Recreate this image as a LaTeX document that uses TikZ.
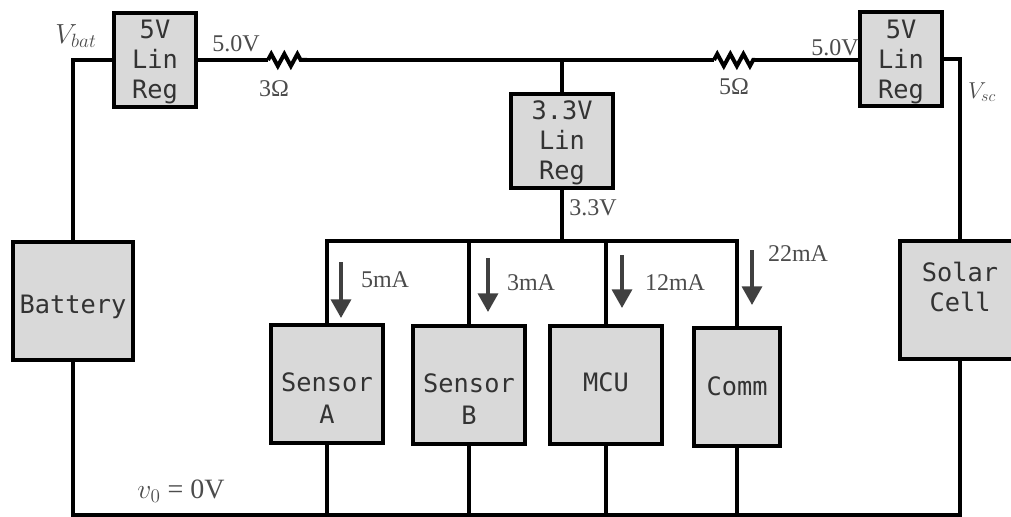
\documentclass[tikz,border=0pt]{standalone}
\usepackage{amsmath}
\usepackage{fontspec}
\usepackage{tikz}
\usetikzlibrary{arrows.meta,calc,decorations.pathmorphing}
\setmainfont{Liberation Serif}
\newfontfamily\boxfont{DejaVu Sans Mono}
% Block text with no height of its own, so it can sit off the middle of a block
\newcommand{\blocktext}[2]{\raisebox{#1}[0pt][0pt]{\begin{tabular}{@{}c@{}}#2\end{tabular}}}

\begin{document}
\begin{tikzpicture}[x=0.75pt,y=-0.75pt,line width=3pt,line join=miter]
    \tikzstyle{block}=[draw=black,fill=black!15,font=\boxfont\fontsize{19}{22.5}\selectfont,inner sep=0pt,text=black!80]
    \tikzstyle{reg}=[block,minimum width=61pt,minimum height=70.5pt]
    \tikzstyle{load}=[block,minimum width=84.5pt,minimum height=88.5pt]
    \tikzstyle{annot}=[text=black!70,font=\fontsize{18}{21}\selectfont,inner sep=0pt]
    \tikzstyle{bigannot}=[annot,font=\fontsize{21}{24}\selectfont]
    \tikzstyle{wire}=[draw=black]
    \tikzstyle{resistor}=[draw=black,line width=3pt,decorate,decoration={zigzag,segment length=9.8pt,amplitude=4.5pt}]
    \tikzstyle{current}=[draw=black!75,line width=2.6pt,-{Triangle[width=15pt,length=14pt]}]

    \useasboundingbox (0,0) rectangle (1011,517);

    % Draw the regulators
    \node[reg] (RegB) at (155,60) {\blocktext{-6.5pt}{5V\\Lin\\Reg}};
    \node[reg] (RegS) at (901,59) {\blocktext{-7pt}{5V\\Lin\\Reg}};
    \node[reg,minimum width=76.5pt] (RegC) at (562,141) {\blocktext{-6.5pt}{3.3V\\Lin\\Reg}};

    % Draw the sources
    \node[block,minimum width=90.5pt,minimum height=88pt] (Bat) at (73,301) {\blocktext{-9pt}{Battery}};
    \node[block,minimum width=90.5pt,minimum height=88pt] (Sol) at (960,300) {\blocktext{3pt}{Solar\\Cell}};

    % Draw the loads
    \node[load] (SenA) at (327,384) {\blocktext{-17.5pt}{Sensor\\[1.5pt]A}};
    \node[load] (SenB) at (469,385) {\blocktext{-17.5pt}{Sensor\\[1.5pt]B}};
    \node[load] (Mcu) at (606,385) {\blocktext{-5pt}{MCU}};
    \node[load,minimum width=65pt] (Com) at (737,387) {\blocktext{-6pt}{Comm}};

    % Wire junctions and resistor ends
    \coordinate (Ra) at (268,60);
    \coordinate (Rb) at (307,60);
    \coordinate (Rc) at (714,60);
    \coordinate (Rd) at (755,60);
    \coordinate (Top) at (RegC.north |- Ra);
    \coordinate (Bus) at (RegC.south |- 0,241);
    \coordinate (Gnd) at (0,515);

    % Top rail with the two resistors
    \path[wire] (RegB.east) -- (Ra);
    \path[resistor] (Ra) -- (Rb);
    \path[wire] (Rb) -- (Rc);
    \path[resistor] (Rc) -- (Rd);
    \path[wire] (Rd) -- (RegS.west |- Rd);
    \path[wire] (Top) -- (RegC.north);

    % Sources up to the regulators
    \path[wire] (Bat.north) |- (RegB.west);
    \path[wire] (Sol.north) |- (RegS.east);

    % 3.3V bus
    \path[wire] (RegC.south) -- (Bus);
    \path[wire] (SenA.north) |- (Com.north |- Bus) -- (Com.north);
    \foreach \dest in {SenB,Mcu}
        \path[wire] (\dest.north |- Bus) -- (\dest.north);

    % Ground rail
    \path[wire] (Bat.south) |- (Sol.south |- Gnd) -- (Sol.south);
    \foreach \source in {SenA,SenB,Mcu,Com}
        \path[wire] (\source.south) -- (\source.south |- Gnd);

    % Load currents
    \foreach \name/\x/\ya/\yb in {Ia/341/262/318,Ib/488/258/312,Ic/622/255/308,Id/752/250/305} {
        \coordinate (\name-s) at (\x,\ya);
        \coordinate (\name-e) at (\x,\yb);
        \path[current] (\name-s) -- (\name-e);
    }

    % Annotate the wires
    \node[annot] (la) at (385,280) {5mA};
    \node[annot] (lb) at (531,283) {3mA};
    \node[annot] (lc) at (675,283) {12mA};
    \node[annot] (ld) at (798,254) {22mA};
    \node[annot] (va) at (236,44) {5.0V};
    \node[annot] (vb) at (835,48) {5.0V};
    \node[annot] (vc) at (593,208) {3.3V};
    \node[annot] (ra) at (274,89) {3Ω};
    \node[annot] (rb) at (734,87) {5Ω};
    \node[bigannot] (vbat) at (76,36) {$V_{bat}$};
    \node[annot] (vsc) at (982,92) {$V_{sc}$};
    \node[bigannot] (vgnd) at (181,491) {$v_0$ = 0V};
\end{tikzpicture}
\end{document}
